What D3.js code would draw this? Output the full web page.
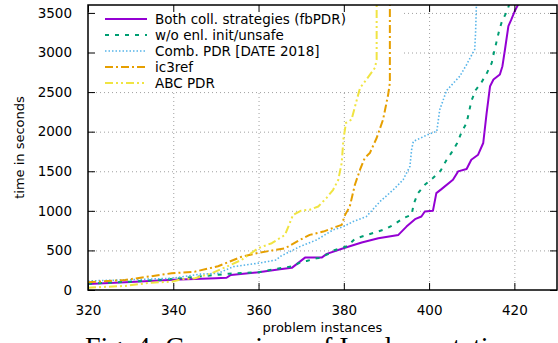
<!DOCTYPE html>
<html>
<head>
<meta charset="utf-8">
<script src="https://cdn.jsdelivr.net/npm/d3@7"></script>
<style>
  body { margin: 0; background: #fff; }
  svg { display: block; }
</style>
</head>
<body>
<div class="chart"></div>
<script>
// Chart settings
const width = 558;
const height = 343;
const margin = { top: 5, right: 1, bottom: 53, left: 88 };
const fontSize = 13.5;

// Axis ticks
const xTicks = [320, 340, 360, 380, 400, 420];
const yTicks = [0, 500, 1000, 1500, 2000, 2500, 3000, 3500];

// Series names (legend order)
const seriesNames = [
  'Both coll. strategies (fbPDR)',
  'w/o enl. init/unsafe',
  'Comb. PDR [DATE 2018]',
  'ic3ref',
  'ABC PDR'
];

// Cactus curves: [solved instances, time in seconds]
const fbPDR = [
  [320, 75], [330, 100], [340, 130], [350, 148], [352.5, 155], [353.5, 190],
  [360, 225], [365, 262], [367.8, 280], [369.7, 358], [370.9, 409], [374.8, 409],
  [376, 456], [379.9, 527], [384.2, 599], [388.1, 654], [392.8, 696], [394.7, 801],
  [396.7, 895], [398.2, 928], [399, 991], [400.9, 1000], [401.7, 1224], [402.9, 1274],
  [405.6, 1392], [406.8, 1498], [408.8, 1528], [409.9, 1646], [411.5, 1709],
  [412.7, 1857], [413.5, 2237], [413.9, 2405], [414.3, 2574], [415.1, 2658],
  [416.6, 2722], [417.2, 2827], [417.8, 3038], [418.6, 3333], [419.3, 3418],
  [420.1, 3523], [420.9, 3608]
];
const noEnlInit = [
  [320, 80], [330, 105], [340, 140], [350, 190], [353, 205], [360, 225],
  [365, 274], [368, 300], [370.1, 358], [371.3, 367], [373.6, 401], [374.2, 405],
  [376.6, 460], [377.5, 497], [378.5, 515], [380.8, 553], [382.6, 646], [385.2, 692],
  [387.5, 730], [389.9, 772], [392, 835], [393.9, 907], [395.9, 949], [396.4, 1089],
  [397.4, 1224], [399, 1329], [400.9, 1414], [402.7, 1506], [403.9, 1625],
  [405.3, 1738], [406.6, 1857], [407.6, 1991], [408.8, 2110], [409.4, 2258],
  [409.9, 2384], [410.9, 2523], [412.3, 2625], [413.5, 2734], [414.7, 2869],
  [415.2, 2996], [415.8, 3131], [416.4, 3270], [417.1, 3397], [418.3, 3523],
  [418.8, 3608]
];
const combPDR = [
  [320, 114], [330, 130], [339.6, 148], [346.3, 200], [350.5, 211], [354.1, 295],
  [359.9, 338], [364.2, 380], [365, 422], [369.7, 548], [373.6, 633], [377.5, 759],
  [379.9, 801], [382.2, 865], [385.3, 928], [388.5, 1118], [391.6, 1266],
  [393.9, 1392], [395.5, 1561], [395.9, 1772], [396.3, 1877], [400.2, 1975],
  [401.8, 2004], [402.5, 2278], [404.1, 2520], [407.2, 2700], [408.8, 2848],
  [409.9, 2960], [410.7, 3038], [410.9, 3249], [411.1, 3608]
];
const ic3ref = [
  [320, 97], [328.7, 127], [339.6, 211], [345.1, 232], [350.5, 300], [356, 420],
  [360, 470], [366.2, 527], [369.7, 633], [372, 696], [375.2, 738], [378.3, 801],
  [379.5, 823], [380.3, 949], [381.4, 1055], [382.6, 1329], [383.8, 1519],
  [384.9, 1667], [386.1, 1730], [387.7, 1920], [389.2, 2152], [390.4, 2468],
  [390.8, 2616], [390.8, 3608]
];
const abcPDR = [
  [320, 29], [328.7, 51], [334.9, 93], [339.6, 105], [342, 135], [345.1, 148],
  [349, 211], [352.1, 285], [356, 380], [359.9, 527], [363.1, 591], [366.2, 696],
  [368.1, 949], [370, 1004], [372, 1013], [374, 1055], [375.9, 1160], [377.5, 1266],
  [378.7, 1392], [379.5, 1603], [379.9, 1899], [380.5, 2110], [381.8, 2152],
  [383.8, 2553], [385.3, 2658], [387.3, 2806], [387.7, 2911], [387.7, 3608]
];

const seriesData = [fbPDR, noEnlInit, combPDR, ic3ref, abcPDR];
const seriesColors = ['#9400d3', '#009e73', '#56b4e9', '#e69f00', '#f0e442'];
const seriesDash = [null, '4,6', '1.5,2', '8,3,2,3', '8,3,2,3,2,3'];

const svg = d3.select('.chart')
  .append('svg')
  .attr('width', width)
  .attr('height', height)
  .attr('style', `font-family: "DejaVu Sans", sans-serif; font-size: ${fontSize}px`);

const x = d3.scaleLinear()
  .domain([320, 430])
  .range([margin.left, width - margin.right]);

const y = d3.scaleLinear()
  .domain([0, 3600])
  .range([height - margin.bottom, margin.top]);

const plotTop = margin.top, plotBottom = height - margin.bottom;
const plotLeft = margin.left, plotRight = width - margin.right;

// Grid (dotted)
const grid = svg.append('g')
  .attr('stroke', '#a0a0a0')
  .attr('stroke-width', 1)
  .attr('stroke-dasharray', '1,3');
grid.append('g').selectAll('line')
  .data(xTicks.slice(1))
  .join('line')
    .attr('x1', d => x(d) + 0.5).attr('x2', d => x(d) + 0.5)
    .attr('y1', plotTop).attr('y2', plotBottom);
grid.append('g').selectAll('line')
  .data(yTicks.slice(1))
  .join('line')
    .attr('x1', plotLeft).attr('x2', plotRight)
    .attr('y1', d => y(d) + 0.5).attr('y2', d => y(d) + 0.5);

// Opaque key box
svg.append('rect')
  .attr('x', plotLeft + 1).attr('y', plotTop + 1)
  .attr('width', 313).attr('height', 86)
  .attr('fill', '#fff');

// Curves
const line = d3.line().x(d => x(d[0])).y(d => y(d[1]));
svg.append('defs').append('clipPath').attr('id', 'clip')
  .append('rect')
  .attr('x', plotLeft).attr('y', plotTop)
  .attr('width', plotRight - plotLeft).attr('height', plotBottom - plotTop);

svg.append('g')
  .attr('clip-path', 'url(#clip)')
  .selectAll('path')
  .data(seriesData)
  .join('path')
    .attr('fill', 'none')
    .attr('stroke', (d, i) => seriesColors[i])
    .attr('stroke-width', (d, i) => i === 2 ? 1.6 : 2)
    .attr('stroke-dasharray', (d, i) => seriesDash[i])
    .attr('stroke-linejoin', 'round')
    .attr('d', line);

// Legend
const rows = svg.append('g').selectAll('g')
  .data(seriesNames)
  .join('g')
    .attr('transform', (d, i) => `translate(0, ${19 + i * 16})`);
rows.append('line')
  .attr('x1', 105).attr('x2', 147)
  .attr('stroke', (d, i) => seriesColors[i])
  .attr('stroke-width', (d, i) => i === 2 ? 1.6 : 2)
  .attr('stroke-dasharray', (d, i) => seriesDash[i]);
rows.append('text')
  .attr('x', 155)
  .attr('dy', '0.35em')
  .attr('fill', '#000')
  .text(d => d);

// Axes with inward ticks on all four sides
const tickLen = 7;
const styleTicks = g => g.selectAll('text')
  .attr('font-size', fontSize)
  .attr('font-family', '"DejaVu Sans", sans-serif')
  .attr('fill', '#000');

svg.append('g')
  .attr('transform', `translate(0, ${plotBottom})`)
  .call(d3.axisBottom(x).tickValues(xTicks).tickSize(-tickLen).tickPadding(tickLen + 8))
  .call(g => g.select('.domain').remove())
  .call(styleTicks);
svg.append('g')
  .attr('transform', `translate(0, ${plotTop})`)
  .call(d3.axisTop(x).tickValues(xTicks).tickSize(-tickLen).tickFormat(''))
  .call(g => g.select('.domain').remove());
svg.append('g')
  .attr('transform', `translate(${plotLeft}, 0)`)
  .call(d3.axisLeft(y).tickValues(yTicks).tickFormat(d3.format('d')).tickSize(-tickLen).tickPadding(tickLen + 9))
  .call(g => g.select('.domain').remove())
  .call(styleTicks);
svg.append('g')
  .attr('transform', `translate(${plotRight}, 0)`)
  .call(d3.axisRight(y).tickValues(yTicks).tickSize(-tickLen).tickFormat(''))
  .call(g => g.select('.domain').remove());

// Frame
svg.append('rect')
  .attr('x', plotLeft).attr('y', plotTop)
  .attr('width', plotRight - plotLeft).attr('height', plotBottom - plotTop)
  .attr('fill', 'none')
  .attr('stroke', '#000')
  .attr('stroke-width', 1.5);

// Axis titles
svg.append('text')
  .attr('x', (plotLeft + plotRight) / 2)
  .attr('y', 332)
  .attr('text-anchor', 'middle')
  .attr('font-size', 13)
  .text('problem instances');
svg.append('text')
  .attr('transform', `translate(24, ${(plotTop + plotBottom) / 2}) rotate(-90)`)
  .attr('text-anchor', 'middle')
  .attr('font-size', 13)
  .text('time in seconds');

// Caption (cut off by the page edge)
svg.append('text')
  .attr('x', 85)
  .attr('y', 356)
  .attr('font-family', '"Liberation Serif", serif')
  .attr('font-size', 28)
  .text('Fig. 4: Comparison of Implementations');
</script>
</body>
</html>
